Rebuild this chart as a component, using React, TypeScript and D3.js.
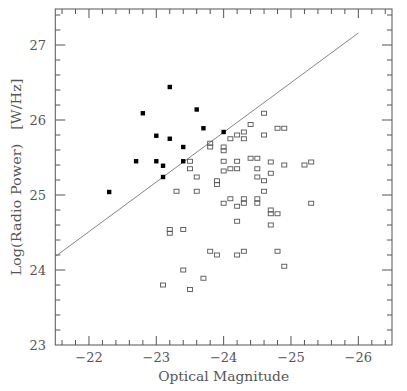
import React from "react";
import * as d3 from "d3";

const W = 407;
const H = 391;

const xTickValues = [-22, -23, -24, -25, -26];
const yTickValues = [23, 24, 25, 26, 27];
const xLabel = "Optical Magnitude";
const yLabel = "Log(Radio Power)   [W/Hz]";

// radio-loud (filled)
const filledMag = [-22.3, -22.7, -22.8, -23.0, -23.0, -23.1, -23.1, -23.2, -23.2, -23.4, -23.4, -23.6, -23.7, -24.0];
const filledPow = [25.04, 25.45, 26.09, 25.79, 25.45, 25.39, 25.24, 26.44, 25.75, 25.64, 25.45, 26.14, 25.89, 25.84];

// open squares
const openMag = [
  -24.6, -24.4, -24.8, -24.9, -24.3, -24.2, -24.1, -24.3, -24.6, -23.8,
  -23.8, -24.0, -24.0, -23.5, -23.5, -24.0, -24.2, -24.4, -24.5, -24.7,
  -24.1, -24.2, -24.0, -24.5, -24.5, -24.6, -23.6, -23.9, -23.9, -23.3,
  -23.6, -24.6, -24.0, -24.1, -24.2, -24.3, -24.3, -24.5, -24.5, -24.7,
  -24.7, -24.8, -24.9, -25.2, -25.3, -24.7, -25.3, -24.2, -24.7, -23.2,
  -23.2, -23.4, -23.8, -23.9, -24.2, -24.3, -24.8, -23.4, -23.7, -23.1,
  -23.5, -24.9,
];
const openPow = [
  26.09, 25.94, 25.89, 25.89, 25.84, 25.80, 25.75, 25.75, 25.80, 25.69,
  25.64, 25.64, 25.59, 25.45, 25.35, 25.45, 25.45, 25.49, 25.49, 25.44,
  25.35, 25.35, 25.32, 25.35, 25.24, 25.19, 25.24, 25.19, 25.14, 25.05,
  25.05, 25.05, 24.89, 24.95, 24.85, 24.95, 24.89, 24.95, 24.89, 24.80,
  24.75, 24.75, 25.40, 25.40, 25.44, 25.29, 24.89, 24.65, 24.60, 24.54,
  24.49, 24.54, 24.25, 24.20, 24.20, 24.25, 24.25, 24.00, 23.89, 23.80,
  23.74, 24.05,
];

// fitted line
const lineMag = [-21.5, -26.0];
const linePow = [24.18, 27.16];

export default function App() {
  const left = 55.3, right = 392, top = 9, bottom = 345;
  const x = d3.scaleLinear().domain([-21.5, -26.5]).range([left, right]);
  const y = d3.scaleLinear().domain([23, 27.48]).range([bottom, top]);

  const axisColor = "#555";
  const textColor = "#555";
  const font = "DejaVu Serif";

  const xMinor = d3.range(-21.6, -26.5, -0.2).map((v) => +v.toFixed(1));
  const yMinor = d3.range(23.2, 27.48, 0.2).map((v) => +v.toFixed(1));

  const isMajor = (v: number) => Math.abs(v - Math.round(v)) < 1e-6;

  const lineGen = d3
    .line<number>()
    .x((_, i) => x(lineMag[i]))
    .y((_, i) => y(linePow[i]));

  return (
    <svg
      width={W}
      height={H}
      style={{ position: "absolute", left: 0, top: 0, background: "#fff" }}
    >
      <rect x={0} y={0} width={W} height={H} fill="#fff" />
      {/* frame */}
      <rect
        x={left}
        y={top}
        width={right - left}
        height={bottom - top}
        fill="none"
        stroke={axisColor}
        strokeWidth={1}
      />
      {/* x ticks */}
      {xMinor.map((v, i) => {
        const len = isMajor(v) ? 9 : 5;
        const px = x(v);
        return (
          <g key={"xt" + i}>
            <line x1={px} x2={px} y1={bottom} y2={bottom - len} stroke={axisColor} />
            <line x1={px} x2={px} y1={top} y2={top + len} stroke={axisColor} />
          </g>
        );
      })}
      {/* y ticks */}
      {yMinor.map((v, i) => {
        const len = isMajor(v) ? 10 : 5;
        const py = y(v);
        return (
          <g key={"yt" + i}>
            <line x1={left} x2={left + len} y1={py} y2={py} stroke={axisColor} />
            <line x1={right} x2={right - len} y1={py} y2={py} stroke={axisColor} />
          </g>
        );
      })}
      {/* x tick labels */}
      {xTickValues.map((v) => (
        <text
          key={"xl" + v}
          x={x(v)}
          y={362}
          textAnchor="middle"
          fontFamily={font}
          fontSize={13}
          fill={textColor}
        >
          {"\u2212" + Math.abs(v)}
        </text>
      ))}
      {/* y tick labels */}
      {yTickValues.map((v) => (
        <text
          key={"yl" + v}
          x={46}
          y={y(v) + 5}
          textAnchor="end"
          fontFamily={font}
          fontSize={13}
          fill={textColor}
        >
          {v}
        </text>
      ))}
      {/* axis titles */}
      <text
        x={(left + right) / 2}
        y={381}
        textAnchor="middle"
        fontFamily={font}
        fontSize={13}
        fill={textColor}
        textLength={131}
        lengthAdjust="spacingAndGlyphs"
      >
        {xLabel}
      </text>
      <text
        transform={`translate(21,${(top + bottom) / 2}) rotate(-90)`}
        textAnchor="middle"
        fontFamily={font}
        fontSize={13}
        fill={textColor}
        textLength={197}
        lengthAdjust="spacingAndGlyphs"
        style={{ whiteSpace: "pre" }}
      >
        {yLabel}
      </text>
      {/* fit line */}
      <path d={lineGen(lineMag) || ""} fill="none" stroke="#777" strokeWidth={0.9} />
      {/* open squares */}
      {openMag.map((m, i) => (
        <rect
          key={"o" + i}
          x={x(m) - 2.5}
          y={y(openPow[i]) - 2}
          width={5}
          height={4}
          fill="none"
          stroke="#555"
          strokeWidth={0.9}
        />
      ))}
      {/* filled squares */}
      {filledMag.map((m, i) => (
        <rect
          key={"f" + i}
          x={x(m) - 2.2}
          y={y(filledPow[i]) - 2.2}
          width={4.4}
          height={4.4}
          fill="#000"
        />
      ))}
    </svg>
  );
}
